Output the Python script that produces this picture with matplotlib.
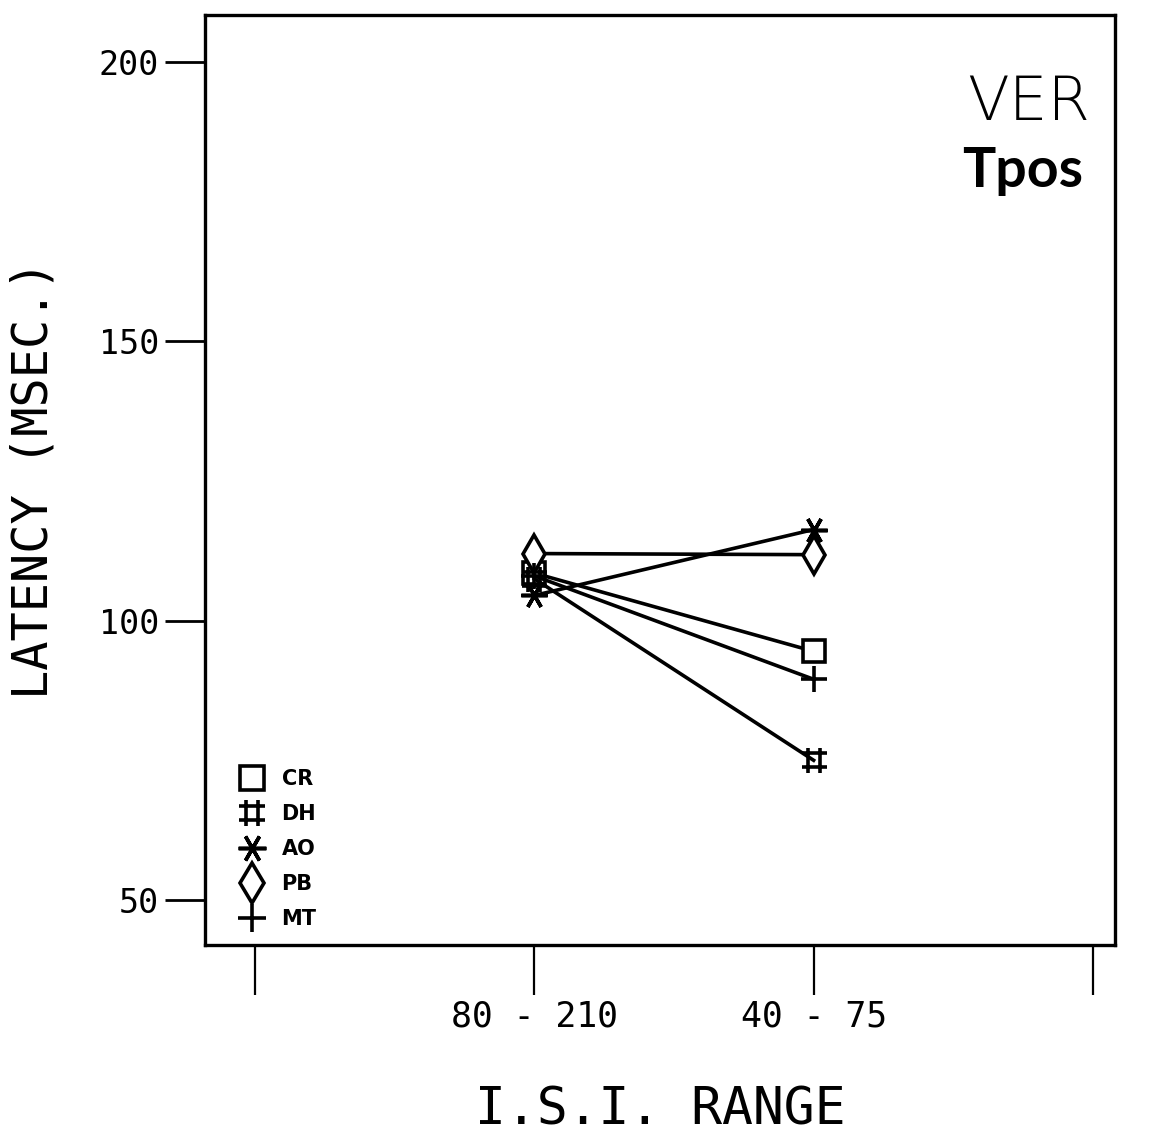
import matplotlib
matplotlib.use('Agg')
import matplotlib.pyplot as plt
from matplotlib.lines import Line2D
from matplotlib.path import Path

# ISI range categories (outer two ticks are unlabeled)
categories = ['', '80 - 210', '40 - 75', '']
x_pos = [1, 2]

subjects = ['CR', 'DH', 'AO', 'PB', 'MT']
lat_80_210 = [108.5, 107.5, 104.5, 112.0, 108.0]
lat_40_75 = [94.5, 75.0, 116.3, 111.8, 89.5]

yticks = [50, 100, 150, 200]

# upright hash marker for DH
hash_marker = Path(
    [(-0.45, -1), (-0.45, 1), (0.45, -1), (0.45, 1),
     (-1, 0.55), (1, 0.55), (-1, -0.55), (1, -0.55)],
    [Path.MOVETO, Path.LINETO] * 4)

markers = {'CR': 's', 'DH': hash_marker, 'AO': (6, 2, 90), 'PB': 'd', 'MT': '+'}
msizes = {'CR': 16, 'DH': 18, 'AO': 19, 'PB': 19, 'MT': 19}

mono = ['DejaVu Sans Mono']
plt.rcParams['font.family'] = ['DejaVu Sans']

fig = plt.figure(figsize=(11.49, 11.40), dpi=100)
ax = fig.add_axes([0.1784, 0.1711, 0.792, 0.8158])

for s, a, b in zip(subjects, lat_80_210, lat_40_75):
    ax.plot(x_pos, [a, b], color='black', linewidth=2.6,
            marker=markers[s], markersize=msizes[s], markerfacecolor='white',
            markeredgecolor='black', markeredgewidth=2.6, zorder=3)

ax.set_xlim(-0.179, 3.079)
ax.set_ylim(41.95, 208.4)

ax.set_xticks(range(len(categories)))
ax.set_xticklabels(categories, fontsize=25, family=mono)
ax.set_yticks(yticks)
ax.set_yticklabels([str(v) for v in yticks], fontsize=24, family=mono)
ax.tick_params(axis='y', direction='out', length=29, width=2, pad=4)
ax.tick_params(axis='x', direction='out', length=36, width=1.6, pad=3)

for sp in ax.spines.values():
    sp.set_linewidth(2.4)

ax.set_ylabel('LATENCY (MSEC.)', fontsize=35, family=mono, labelpad=30)
ax.set_xlabel('I.S.I. RANGE', fontsize=37, family=mono, labelpad=38)

ax.text(0.905, 0.905, 'VER', transform=ax.transAxes, fontsize=44,
        ha='center', va='center', fontweight='light')
ax.text(0.898, 0.832, 'Tpos', transform=ax.transAxes, fontsize=40,
        ha='center', va='center', fontweight='bold', family=['Lato', 'DejaVu Sans'])

handles = [Line2D([], [], linestyle='none', marker=markers[s], markersize=msizes[s] + 1,
                  markerfacecolor='white', markeredgecolor='black', markeredgewidth=2.6)
           for s in subjects]
leg = ax.legend(handles, subjects, loc='lower left', bbox_to_anchor=(0.02, -0.003),
                frameon=False, handlelength=1.0, handletextpad=0.9,
                labelspacing=0.72, prop={'weight': 'bold', 'size': 15})

fig.savefig('out.png', dpi=100)
